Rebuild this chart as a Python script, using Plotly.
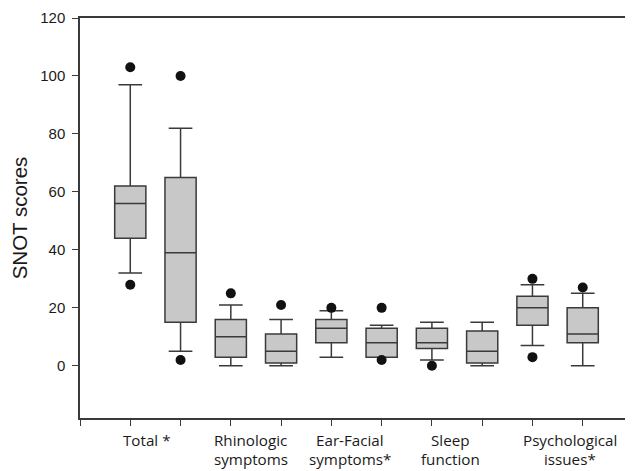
import plotly.graph_objects as go

# ---- data ----
categories = ["Total *", "Rhinologic<br>symptoms", "Ear-Facial<br>symptoms*",
              "Sleep<br>function", "Psychological<br>issues*"]
box_pos = [1, 2, 3, 4, 5, 6, 7, 8, 9, 10]
lower_whisker = [32, 5, 0, 0, 3, 3, 2, 0, 7, 0]
q1 = [44, 15, 3, 1, 8, 3, 6, 1, 14, 8]
median = [56, 39, 10, 5, 13, 8, 8, 5, 20, 11]
q3 = [62, 65, 16, 11, 16, 13, 13, 12, 24, 20]
upper_whisker = [97, 82, 21, 16, 19, 14, 15, 15, 28, 25]
outliers = [[103, 28], [100, 2], [25], [21], [20], [20, 2], [0], [], [30, 3], [27]]
y_ticks = [0, 20, 40, 60, 80, 100, 120]

AX = "#3a3a3a"
TXT = "#1a1a1a"

fig = go.Figure()
fig.add_trace(go.Box(
    x=box_pos, q1=q1, median=median, q3=q3,
    lowerfence=lower_whisker, upperfence=upper_whisker,
    width=0.62, whiskerwidth=0.76,
    fillcolor="#c8c8c8",
    line=dict(color=AX, width=1.5),
    boxpoints=False, showlegend=False, hoverinfo="skip",
))

ox, oy = [], []
for p, vals in zip(box_pos, outliers):
    for v in vals:
        ox.append(p)
        oy.append(v)
fig.add_trace(go.Scatter(
    x=ox, y=oy, mode="markers",
    marker=dict(size=10, color="#111111"),
    showlegend=False, hoverinfo="skip",
))

# group label positions (between box pairs)
label_x = [1.33, 3.40, 5.37, 7.36, 9.74]
line_y = [-0.055, -0.1025]
for lx, txt in zip(label_x, categories):
    for ly, part in zip(line_y, txt.split("<br>")):
        fig.add_annotation(
            x=lx, xref="x", y=ly, yref="paper", yanchor="middle",
            text=part, showarrow=False, align="center", borderpad=0,
            font=dict(family="Open Sans", size=15.2, color=TXT),
        )

fig.update_layout(
    width=625, height=463,
    margin=dict(l=72, r=0, t=10, b=53),
    paper_bgcolor="white", plot_bgcolor="white",
    xaxis=dict(
        range=[0, 11], tickvals=list(range(0, 11)), ticktext=[""] * 11,
        ticks="outside", ticklen=6, tickcolor=AX, tickwidth=1.3,
        showline=True, linecolor=AX, linewidth=1.5, mirror=True,
        showgrid=False, zeroline=False, automargin=False,
    ),
    yaxis=dict(
        range=[-18, 120], tickvals=y_ticks,
        ticks="outside", ticklen=6, tickcolor=AX, tickwidth=1.3,
        showline=True, linecolor=AX, linewidth=1.5,
        showgrid=False, zeroline=False, automargin=False,
        ticklabelstandoff=4,
        tickfont=dict(family="Liberation Sans", size=15, color=TXT),
        title=dict(text="SNOT scores", standoff=19,
                   font=dict(family="Liberation Sans", size=20.5, color=TXT)),
    ),
)

fig.write_html("out.html")
